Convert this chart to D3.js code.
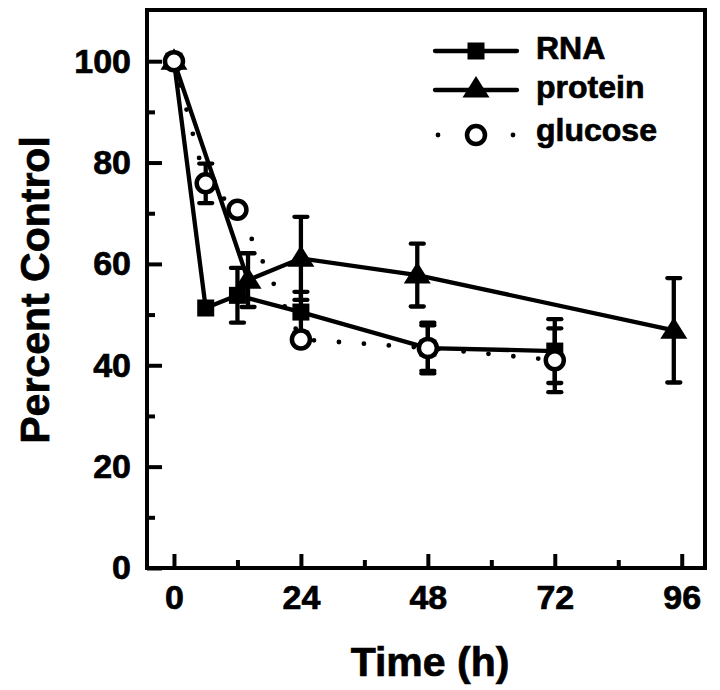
<!DOCTYPE html>
<html>
<head>
<meta charset="utf-8">
<script src="https://cdn.jsdelivr.net/npm/d3@7"></script>
<style>
  html, body { margin: 0; padding: 0; background: #fff; }
  svg { display: block; }
  text { font-family: "Liberation Sans", Arial, Helvetica, sans-serif; font-weight: bold; fill: #000; stroke: #000; stroke-width: 0.7px; }
</style>
</head>
<body>
<svg id="chart" width="720" height="690"></svg>
<script>
// ---- data ----
const rnaTime    = [0, 6, 12, 24, 48, 72];
const rnaValue   = [100, 51.3, 53.8, 50.5, 43.4, 42.8];
const rnaError   = [0, 0, 5.4, 4.0, 5.0, 6.3];

const proteinTime  = [0, 14, 24, 46, 94.5];
const proteinValue = [100, 56.8, 61.1, 57.8, 46.9];
const proteinError = [0, 5.3, 8.2, 6.2, 10.3];

const glucoseTime  = [0, 6, 12, 24, 48, 72];
const glucoseValue = [100, 75.9, 70.7, 45.1, 43.4, 41.0];
const glucoseError = [0, 3.9, 0, 0, 4.5, 6.3];

const xTickValues = [0, 24, 48, 72, 96];
const xMinorTicks = [12, 36, 60, 84];
const yTickValues = [0, 20, 40, 60, 80, 100];
const yMinorTicks = [10, 30, 50, 70, 90];

const legendLabels = ["RNA", "protein", "glucose"];
const xTitle = "Time (h)";
const yTitle = "Percent Control";

(function () {
// ---- layout ----
const svg = d3.select("#chart");
const pLeft = 147, pRight = 705, pTop = 10, pBottom = 568;
const x = d3.scaleLinear().domain([-5.1, 100.4]).range([pLeft, pRight]);
const y = d3.scaleLinear().domain([0, 110.1]).range([pBottom, pTop]);

const zip = (t, v, e) => t.map((d, i) => ({ t: d, v: v[i], e: e[i] }));
const rna = zip(rnaTime, rnaValue, rnaError);
const protein = zip(proteinTime, proteinValue, proteinError);
const glucose = zip(glucoseTime, glucoseValue, glucoseError);

// ---- axes ----
svg.append("g").attr("transform", `translate(0,${pBottom})`)
  .call(d3.axisBottom(x).tickValues(xTickValues).tickSize(-14).tickPadding(17).tickFormat(d3.format("d")));
svg.append("g").attr("transform", `translate(0,${pBottom})`)
  .call(d3.axisBottom(x).tickValues(xMinorTicks).tickSize(-8).tickFormat(""));
svg.append("g").attr("transform", `translate(${pLeft},0)`)
  .call(d3.axisLeft(y).tickValues(yTickValues).tickSize(-15).tickPadding(16).tickFormat(d3.format("d")));
svg.append("g").attr("transform", `translate(${pLeft},0)`)
  .call(d3.axisLeft(y).tickValues(yMinorTicks).tickSize(-8).tickFormat(""));

svg.selectAll(".domain").remove();
svg.selectAll(".tick line").attr("stroke", "#000").attr("stroke-width", 4);
svg.selectAll(".tick text").style("font-size", "34px").style("font-family", "'Liberation Sans', Arial, sans-serif")
  .style("font-weight", "bold").attr("fill", "#000").attr("stroke", "#000").attr("stroke-width", 0.7);

// frame
svg.append("rect").attr("x", pLeft).attr("y", pTop).attr("width", pRight - pLeft).attr("height", pBottom - pTop)
  .attr("fill", "none").attr("stroke", "#000").attr("stroke-width", 4);

// titles
svg.append("text").attr("x", (pLeft + pRight) / 2 + 4).attr("y", 676).attr("text-anchor", "middle")
  .style("font-size", "41px").text(xTitle);
svg.append("text").attr("transform", "translate(49,290) rotate(-90)").attr("text-anchor", "middle")
  .style("font-size", "41px").text(yTitle);

// ---- lines ----
const line = d3.line().x(d => x(d.t)).y(d => y(d.v));
const plot = svg.append("g");

plot.append("path").datum(glucose).attr("d", line).attr("fill", "none").attr("stroke", "#000")
  .attr("stroke-width", 4.8).attr("stroke-linecap", "round").attr("stroke-dasharray", "0 25");
plot.append("path").datum(rna).attr("d", line).attr("fill", "none").attr("stroke", "#000").attr("stroke-width", 4.3);
plot.append("path").datum(protein).attr("d", line).attr("fill", "none").attr("stroke", "#000").attr("stroke-width", 4.3);

// ---- error bars ----
function errorBars(data) {
  const g = plot.append("g").attr("stroke", "#000").attr("stroke-width", 4.3);
  data.filter(d => d.e > 0).forEach(d => {
    const cx = x(d.t), y1 = y(d.v + d.e), y2 = y(d.v - d.e);
    g.append("line").attr("x1", cx).attr("x2", cx).attr("y1", y1).attr("y2", y2);
    g.append("line").attr("x1", cx - 6.5).attr("x2", cx + 6.5).attr("y1", y1).attr("y2", y1).attr("stroke-linecap", "round");
    g.append("line").attr("x1", cx - 6.5).attr("x2", cx + 6.5).attr("y1", y2).attr("y2", y2).attr("stroke-linecap", "round");
  });
}
errorBars(rna);
errorBars(protein);
errorBars(glucose);

// ---- markers ----
const sq = 17;
const triPath = (cx, cy) => `M${cx},${cy - 13}L${cx + 13.5},${cy + 8.5}L${cx - 13.5},${cy + 8.5}Z`;

plot.selectAll(".rnaPt").data(rna).join("rect").attr("class", "rnaPt")
  .attr("x", d => x(d.t) - sq / 2).attr("y", d => y(d.v) - sq / 2).attr("width", sq).attr("height", sq).attr("fill", "#000");
plot.selectAll(".protPt").data(protein).join("path").attr("class", "protPt")
  .attr("d", d => triPath(x(d.t), y(d.v))).attr("fill", "#000");
plot.selectAll(".gluPt").data(glucose).join("circle").attr("class", "gluPt")
  .attr("cx", d => x(d.t)).attr("cy", d => y(d.v)).attr("r", 9)
  .attr("fill", "#fff").attr("stroke", "#000").attr("stroke-width", 4.5);

// ---- legend ----
const lg = svg.append("g");
const lx1 = 435, lx2 = 517, lmx = 476;
const rows = [51, 90, 135];
const baselines = [59, 98, 141];
// RNA
lg.append("line").attr("x1", lx1).attr("x2", lx2).attr("y1", rows[0]).attr("y2", rows[0]).attr("stroke", "#000").attr("stroke-width", 4.3).attr("stroke-linecap", "round");
lg.append("rect").attr("x", lmx - sq / 2).attr("y", rows[0] - sq / 2).attr("width", sq).attr("height", sq).attr("fill", "#000");
// protein
lg.append("line").attr("x1", lx1).attr("x2", lx2).attr("y1", rows[1]).attr("y2", rows[1]).attr("stroke", "#000").attr("stroke-width", 4.3).attr("stroke-linecap", "round");
lg.append("path").attr("d", triPath(lmx, rows[1] - 1)).attr("fill", "#000");
// glucose
[lx1 + 3, lx2 - 4].forEach(px => lg.append("circle").attr("cx", px).attr("cy", rows[2]).attr("r", 2.4).attr("fill", "#000"));
lg.append("circle").attr("cx", lmx).attr("cy", rows[2]).attr("r", 9).attr("fill", "#fff").attr("stroke", "#000").attr("stroke-width", 4.5);

legendLabels.forEach((t, i) => {
  lg.append("text").attr("x", 536).attr("y", baselines[i]).style("font-size", "32px").text(t);
});
})();
</script>
</body>
</html>
